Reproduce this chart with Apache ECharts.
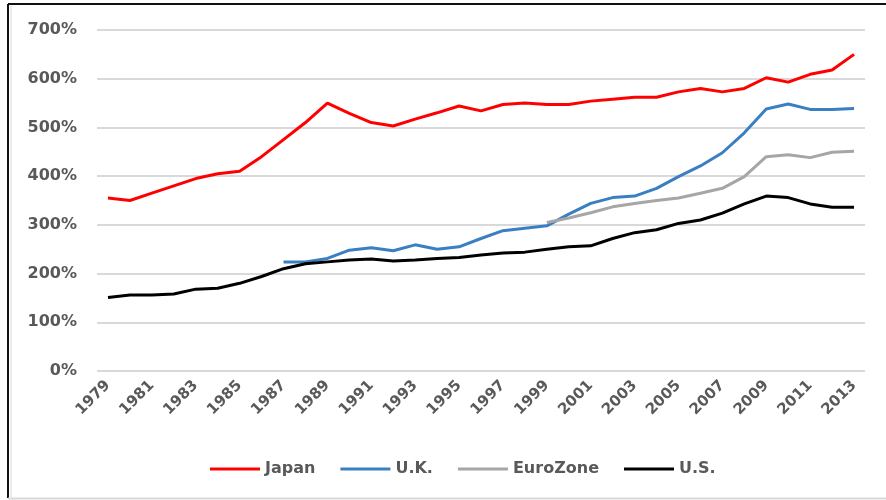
<!DOCTYPE html>
<html>
<head>
<meta charset="utf-8">
<script src="https://cdn.jsdelivr.net/npm/echarts@6/dist/echarts.min.js"></script>
<style>
    html, body { margin: 0; padding: 0; background: #fff; }
    #chart { width: 886px; height: 500px; }
</style>
</head>
<body>
<div id="chart"></div>
<script>
    // years on the category axis
    const years = [];
    for (let y = 1979; y <= 2013; y++) years.push(String(y));

    // values, in percent
    const japan = [355, 350, 365, 380, 395, 405, 410, 440, 475, 510, 550, 529, 510, 503, 517, 530, 544, 534, 547, 550, 547, 547,
                   554, 558, 562, 562, 573, 580, 573, 580, 602, 593, 609, 618, 650];
    const uk = [null, null, null, null, null, null, null, null, 224, 224, 231, 248, 253, 247, 259, 250, 255, 272, 288, 293, 298, 322,
                344, 356, 359, 375, 399, 421, 448, 489, 538, 548, 537, 537, 539];
    const euroZone = [null, null, null, null, null, null, null, null, null, null, null, null, null, null, null, null, null, null, null, null, 305, 314,
                      325, 337, 344, 350, 355, 365, 375, 399, 440, 444, 438, 449, 451];
    const us = [151, 156, 156, 158, 168, 170, 180, 194, 210, 220, 224, 228, 230, 226, 228, 231, 233, 238, 242, 244, 250, 255,
                257, 272, 284, 290, 303, 310, 324, 343, 359, 356, 343, 336, 336];

    const seriesNames = ['Japan', 'U.K.', 'EuroZone', 'U.S.'];
    const seriesColors = ['#ff0000', '#3a7fc1', '#a6a6a6', '#000000'];
    const seriesValues = [japan, uk, euroZone, us];

    const font = 'DejaVu Sans';
    const textGray = '#595959';

    const chart = echarts.init(document.getElementById('chart'), null, { renderer: 'canvas' });

    const option = {
        animation: false,
        backgroundColor: '#fff',
        grid: { left: 97, right: 21, top: 30, bottom: 129, containLabel: false },
        legend: {
            left: 205,
            top: 456,
            icon: 'rect',
            itemWidth: 50,
            itemHeight: 3,
            itemGap: 25,
            textStyle: { fontFamily: font, fontWeight: 'bold', fontSize: 16, color: textGray },
            data: seriesNames
        },
        xAxis: {
            type: 'category',
            data: years,
            boundaryGap: true,
            axisLine: { show: false },
            axisTick: { show: false },
            axisLabel: {
                interval: 1,
                rotate: 45,
                margin: 12,
                fontFamily: font,
                fontWeight: 'bold',
                fontSize: 15,
                color: textGray
            }
        },
        yAxis: {
            type: 'value',
            min: 0,
            max: 700,
            interval: 100,
            axisLine: { show: false },
            axisTick: { show: false },
            axisLabel: {
                formatter: '{value}%',
                margin: 20,
                fontFamily: font,
                fontWeight: 'bold',
                fontSize: 16,
                color: textGray
            },
            splitLine: { lineStyle: { color: '#d9d9d9', width: 2 } }
        },
        series: seriesNames.map((name, i) => ({
            name: name,
            type: 'line',
            data: seriesValues[i],
            showSymbol: false,
            connectNulls: false,
            lineStyle: { color: seriesColors[i], width: 3 },
            itemStyle: { color: seriesColors[i] }
        })),
        graphic: [
            // frame around the chart area (left and top dark, bottom light)
            { type: 'line', shape: { x1: 8, y1: 4, x2: 8, y2: 498 }, style: { stroke: '#111', lineWidth: 2 } },
            { type: 'line', shape: { x1: 8, y1: 4, x2: 886, y2: 4 }, style: { stroke: '#111', lineWidth: 2 } },
            { type: 'line', shape: { x1: 11, y1: 6, x2: 11, y2: 497 }, style: { stroke: '#d9d9d9', lineWidth: 1 } },
            { type: 'line', shape: { x1: 8, y1: 498.5, x2: 886, y2: 498.5 }, style: { stroke: '#d9d9d9', lineWidth: 2 } }
        ]
    };

    chart.setOption(option);
</script>
</body>
</html>
